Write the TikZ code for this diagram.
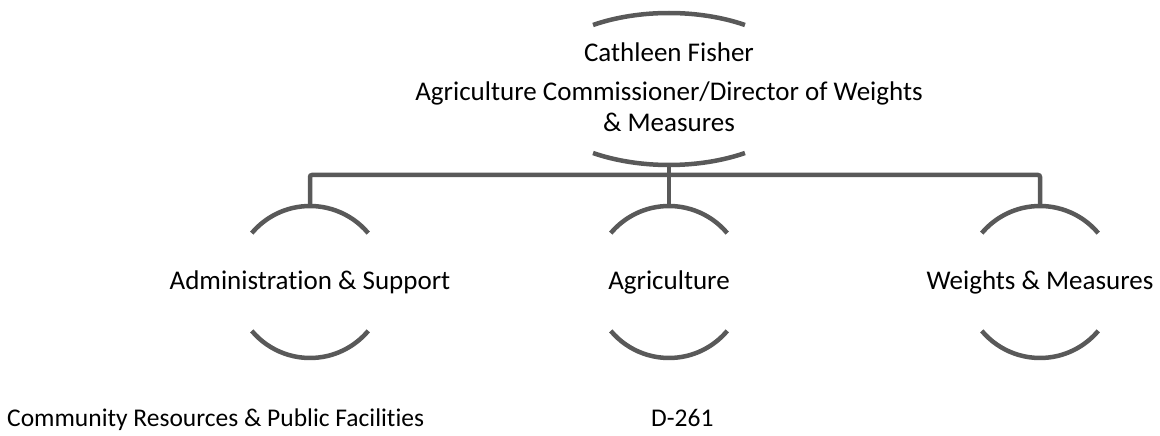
\documentclass[tikz,border=0pt]{standalone}
\usepackage{fontspec}
\setmainfont{Carlito}[Ligatures=NoCommon]
\usetikzlibrary{positioning}
\definecolor{linegray}{HTML}{595959}
\tikzset{
     ring node/.style={circle, minimum size=152pt, inner sep=0pt, outer sep=0pt},
     boss ring/.style={rectangle, minimum width=282pt, minimum height=152pt, inner sep=0pt, outer sep=0pt},
     label node/.style={font=\fontsize{27}{31}\selectfont, inner sep=0pt, align=center},
     foot node/.style={font=\fontsize{25.5}{30}\selectfont, inner sep=0pt, anchor=base west},
     arcline/.style={linegray, line width=4.5pt},
     orgedge/.style={linegray, line width=4.5pt, rounded corners=2pt},
    }

\begin{document}
\begin{tikzpicture}
    \useasboundingbox (0,0) rectangle (1160pt,436pt);

    % rings
    \node [boss ring] (bossring) at (669pt,347pt) {};
    \node [ring node] (admring)  at (310pt,154pt) {};
    \node [ring node] (agrring)  at (669pt,154pt) {};
    \node [ring node] (wmring)   at (1040pt,154pt) {};

    % texts
    \node [label node, anchor=base] (boss) at (669pt,374pt) {Cathleen Fisher};
    \node [label node, anchor=base] (bosstitle) at (669pt,304pt)
        {Agriculture Commissioner/Director of Weights\\ \& Measures};
    \node [label node] (adm) at (admring) {Administration \& Support};
    \node [label node] (agr) at (agrring) {Agriculture};
    \node [label node] (wm)  at (wmring)  {Weights \& Measures};

    \node [foot node] (dept) at (7pt,9pt) {Community Resources \& Public Facilities};
    \node [foot node] (page) at (651pt,9pt) {D-261};

    % arcs
    \draw [arcline] ([shift={(57.4:141pt and 76pt)}]bossring.center)
        arc [start angle=57.4, end angle=122.6, x radius=141pt, y radius=76pt];
    \draw [arcline] ([shift={(237.4:141pt and 76pt)}]bossring.center)
        arc [start angle=237.4, end angle=302.6, x radius=141pt, y radius=76pt];
    \foreach \n in {admring,agrring,wmring}{
        \draw [arcline] (\n.40) arc [start angle=40, end angle=140, radius=76pt];
        \draw [arcline] (\n.220) arc [start angle=220, end angle=320, radius=76pt];
    }

    % connectors
    \coordinate (bus) at (669pt,261pt);
    \draw [orgedge] (bossring.south) -- (agrring.north);
    \draw [orgedge] (admring.north) |- (bus) -| (wmring.north);
\end{tikzpicture}
\end{document}
